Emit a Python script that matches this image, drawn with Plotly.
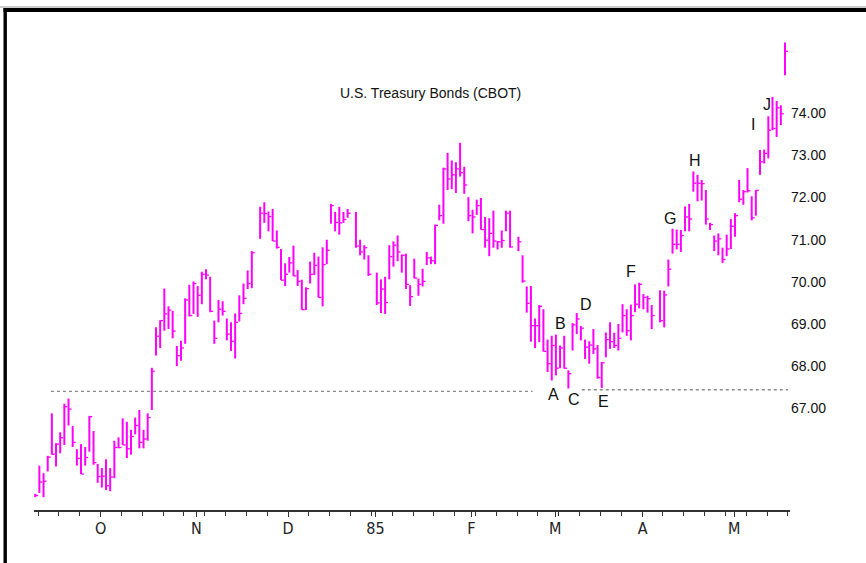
import pandas as pd
import plotly.graph_objects as go

# Trading sessions: weekdays from 10 Sep 1984 to 20 May 1985, exchange holidays removed
holidays = ["1984-11-22", "1984-12-25", "1985-01-01", "1985-02-18", "1985-04-05"]
sessions = pd.bdate_range("1984-09-10", "1985-05-20")
sessions = sessions[~sessions.isin(pd.to_datetime(holidays))]

high = [
    64.97, 65.64, 65.46, 65.87, 66.88, 66.17, 66.43, 67.11, 67.23, 66.58,
    66.03, 66.15, 66.08, 66.82, 66.46, 65.68, 65.58, 65.79, 65.58, 66.23,
    66.31, 66.76, 66.68, 66.49, 66.78, 66.96, 66.49, 66.88, 67.96,
    68.92, 69.09, 69.84, 69.42, 69.31, 68.48, 68.60, 69.61, 69.93, 70.01,
    69.90, 70.24, 70.30, 70.12, 69.08, 69.57, 69.54, 69.13, 69.04, 69.25,
    69.68, 69.96, 70.27, 70.73,
    71.78, 71.89, 71.67, 71.73, 71.22, 70.78, 70.44, 70.59, 70.86, 70.28,
    70.05, 69.87, 70.48, 70.69, 70.60, 70.82, 71.00, 71.85, 71.66, 71.78,
    71.66, 71.73,
    71.66, 71.00, 70.87, 70.63,
    70.22, 70.06, 70.12, 70.87, 70.96, 71.10, 70.65, 70.67, 69.92, 70.55,
    70.08, 70.31, 70.71, 70.60, 71.36, 71.83, 72.71, 73.06, 72.88, 72.84,
    73.30, 72.73, 72.01, 71.71, 71.95, 71.99, 71.54, 71.51, 71.69, 70.97,
    71.22, 71.69, 71.69,
    71.07, 70.63, 69.89, 69.90, 69.13, 69.45, 69.35, 68.63, 68.72, 68.75,
    68.49, 68.72, 67.90, 69.02, 69.26, 68.95, 68.63, 68.59, 68.88, 68.50,
    68.10, 68.80, 69.04, 68.79, 69.00, 69.47, 69.35, 69.46, 69.94, 69.98,
    69.71, 69.67, 69.45,
    69.80, 69.79, 70.53, 71.26, 71.24, 71.23, 71.79, 71.85, 72.62, 72.54,
    72.42, 72.18, 71.40, 71.10, 71.15, 70.81, 71.12, 71.49, 71.63, 72.42,
    72.18, 72.70, 72.03, 72.18, 73.13, 73.14, 73.93, 74.39, 74.29, 74.19,
    75.68,
]
low = [
    64.89, 64.99, 64.89, 65.50, 65.90, 65.62, 65.93, 66.13, 66.59, 66.08,
    65.64, 65.44, 65.64, 65.97, 65.66, 65.23, 65.12, 65.06, 65.03, 65.34,
    66.05, 66.13, 65.82, 65.90, 66.38, 66.05, 66.05, 66.23, 66.96,
    68.25, 68.43, 68.84, 68.88, 68.66, 68.00, 68.13, 68.53, 69.18, 69.24,
    69.17, 69.47, 70.06, 69.28, 68.53, 69.04, 69.20, 68.61, 68.36, 68.18,
    69.06, 69.47, 69.83, 69.85,
    71.02, 71.40, 71.20, 70.97, 70.79, 70.04, 69.90, 70.22, 70.14, 69.90,
    69.34, 69.33, 69.96, 70.16, 69.63, 69.42, 70.42, 71.38, 71.20, 71.12,
    71.40, 71.52,
    70.81, 70.63, 70.53, 70.14,
    69.45, 69.26, 69.24, 70.06, 70.36, 70.49, 70.22, 69.83, 69.43, 70.08,
    69.67, 69.89, 70.40, 70.42, 70.42, 71.46, 71.38, 72.18, 72.20, 72.11,
    72.50, 72.09, 71.44, 71.15, 71.59, 71.24, 70.81, 70.61, 70.81, 70.77,
    70.81, 71.20, 70.81,
    70.73, 69.98, 69.27, 68.58, 68.43, 68.57, 68.35, 67.86, 67.66, 67.78,
    67.95, 67.94, 67.47, 68.37, 68.76, 68.61, 68.17, 68.06, 68.29, 67.70,
    67.48, 68.21, 68.41, 68.43, 68.37, 68.80, 68.72, 68.61, 69.28, 69.37,
    69.35, 69.27, 68.88,
    69.04, 68.92, 69.89, 70.67, 70.77, 70.71, 71.20, 71.20, 72.14, 71.91,
    71.93, 71.36, 71.23, 70.73, 70.63, 70.45, 70.61, 70.78, 71.07, 71.89,
    71.83, 72.12, 71.46, 71.57, 72.54, 72.81, 72.93, 73.60, 73.44, 73.72,
    74.90,
]
close = [
    64.93, 65.25, 65.27, 65.84, 65.91, 66.15, 66.30, 67.04, 66.98, 66.19,
    65.81, 65.44, 65.83, 66.80, 65.71, 65.38, 65.39, 65.16, 65.37, 66.07,
    66.07, 66.13, 66.04, 66.33, 66.59, 66.19, 66.27, 66.78, 67.88,
    68.71, 69.08, 69.24, 69.33, 68.83, 68.25, 68.43, 69.57, 69.20, 69.96,
    69.68, 70.18, 70.16, 69.30, 68.66, 69.35, 69.30, 68.76, 68.59, 69.04,
    69.25, 69.61, 69.96, 70.69,
    71.63, 71.62, 71.55, 70.97, 70.82, 70.04, 70.18, 70.45, 70.14, 70.01,
    69.34, 69.84, 70.18, 70.39, 69.63, 70.41, 70.75, 71.81, 71.41, 71.40,
    71.48, 71.63,
    70.85, 70.71, 70.81, 70.18,
    69.50, 69.83, 69.51, 70.60, 70.87, 70.71, 70.63, 69.94, 69.65, 70.09,
    69.94, 70.01, 70.57, 70.50, 71.34, 71.57, 72.68, 72.44, 72.54, 72.68,
    72.59, 72.30, 71.57, 71.54, 71.81, 71.24, 70.99, 71.15, 70.97, 70.95,
    70.98, 71.63, 70.83,
    70.95, 70.02, 69.49, 68.96, 68.96, 69.42, 68.35, 68.06, 68.49, 67.95,
    68.43, 67.95, 67.82, 68.98, 69.12, 68.90, 68.45, 68.50, 68.41, 67.73,
    68.08, 68.63, 68.58, 68.49, 68.66, 69.20, 68.84, 69.20, 69.47, 69.94,
    69.63, 69.60, 69.20,
    69.08, 69.69, 70.30, 70.89, 70.89, 71.10, 71.54, 71.49, 72.34, 72.34,
    72.33, 71.49, 71.36, 70.97, 71.02, 70.53, 70.78, 71.32, 71.57, 71.96,
    72.14, 72.16, 71.52, 72.17, 72.85, 73.05, 73.60, 73.64, 74.13, 73.99,
    75.47,
]

# Horizontal support lines drawn under the lows
support_level = [67.40, 67.44]
support_start = ["1984-09-13 19:00", "1985-03-12 05:00"]
support_end = ["1985-02-22 10:00", "1985-05-20 17:00"]

# Chart-point letters
label_text = ["A", "B", "C", "D", "E", "F", "G", "H", "I", "J"]
label_date = ["1985-03-01 10:00", "1985-03-05 05:00", "1985-03-08 07:00",
              "1985-03-13 05:00", "1985-03-19 10:00", "1985-03-27 22:00",
              "1985-04-10 12:00", "1985-04-18 10:00", "1985-05-08 10:00",
              "1985-05-13 17:00"]
label_price = [67.32, 69.02, 67.20, 69.47, 67.16, 70.24, 71.51, 72.88, 73.74, 74.20]

# Month ticks along the time axis
month_ticks = ["1984-10-01 16:48", "1984-11-01 16:48", "1984-12-03 16:48",
               "1985-01-01 16:48", "1985-02-01 16:48", "1985-03-01 20:00",
               "1985-04-01 20:00", "1985-05-01 20:00"]
month_labels = ["O", "N", "D", "85", "F", "M", "A", "M"]
price_ticks = [67, 68, 69, 70, 71, 72, 73, 74]

BAR = "#ff00ff"

# High-low ranges and close ticks as line segments
bx, by, tx, ty = [], [], [], []
for d, h, l, c in zip(sessions, high, low, close):
    bx += [d, d, None]
    by += [h, l, None]
    tx += [d, d + pd.Timedelta(hours=17), None]
    ty += [c, c, None]

fig = go.Figure()
for lvl, s, e in zip(support_level, support_start, support_end):
    fig.add_trace(go.Scatter(x=[s, e], y=[lvl, lvl], mode="lines",
                             line=dict(color="#8a8a8a", width=1.3, dash="dot"),
                             hoverinfo="skip"))
fig.add_trace(go.Scatter(x=bx, y=by, mode="lines",
                         line=dict(color=BAR, width=2), hoverinfo="skip"))
fig.add_trace(go.Scatter(x=tx, y=ty, mode="lines",
                         line=dict(color=BAR, width=1.3), hoverinfo="skip"))

L, R, T, B = 34, 76, 20, 53
W, H = 866, 563
pw, ph = W - L - R, H - T - B


def px(xp):
    return (xp - L) / pw


def py(yp):
    return (H - B - yp) / ph


annotations = [dict(text=t, x=d, y=p, xref="x", yref="y", showarrow=False,
                    font=dict(family="Liberation Sans, Arial", size=16, color="#111"),
                    xanchor="center", yanchor="middle")
               for t, d, p in zip(label_text, label_date, label_price)]
annotations.append(dict(text="U.S. Treasury Bonds (CBOT)", x=px(430), y=py(93),
                        xref="paper", yref="paper", showarrow=False,
                        font=dict(family="Liberation Sans, Arial", size=14, color="#111"),
                        xanchor="center", yanchor="middle"))

shapes = [
    dict(type="line", xref="paper", yref="paper", x0=px(0), x1=px(W), y0=py(7), y1=py(7),
         line=dict(color="#9a9a9a", width=1)),
    dict(type="line", xref="paper", yref="paper", x0=px(3.5), x1=px(W), y0=py(10), y1=py(10),
         line=dict(color="black", width=4)),
    dict(type="line", xref="paper", yref="paper", x0=px(5.2), x1=px(5.2), y0=py(8), y1=py(H),
         line=dict(color="black", width=3.4)),
]

fig.update_layout(
    width=W, height=H, margin=dict(l=L, r=R, t=T, b=B),
    paper_bgcolor="white", plot_bgcolor="white", showlegend=False,
    annotations=annotations, shapes=shapes,
)
fig.update_xaxes(
    type="date", range=["1984-09-07 17:05", "1985-05-21 04:48"],
    rangebreaks=[dict(bounds=["sat", "mon"])],
    tickvals=month_ticks, ticktext=month_labels,
    ticks="outside", ticklen=5, tickwidth=1, tickcolor="#333",
    ticklabelstandoff=-2,
    showline=True, linecolor="#333", linewidth=2,
    showgrid=False, zeroline=False,
    tickfont=dict(family="Liberation Sans Narrow, DejaVu Sans Condensed, Liberation Sans, Arial",
                  size=16, color="#222"),
    minor=dict(ticks="outside", ticklen=4, tickwidth=1, tickcolor="#333",
               dtick=7 * 86400000, tick0="1984-09-10 16:48", showgrid=False),
)
fig.update_yaxes(
    side="right", range=[64.586, 76.214],
    tickvals=price_ticks, ticktext=[f"{v:.2f}" for v in price_ticks],
    ticks="", showline=False, showgrid=False, zeroline=False,
    tickfont=dict(family="Liberation Sans, Arial", size=14, color="#111"),
)

fig.write_html("out.html")
